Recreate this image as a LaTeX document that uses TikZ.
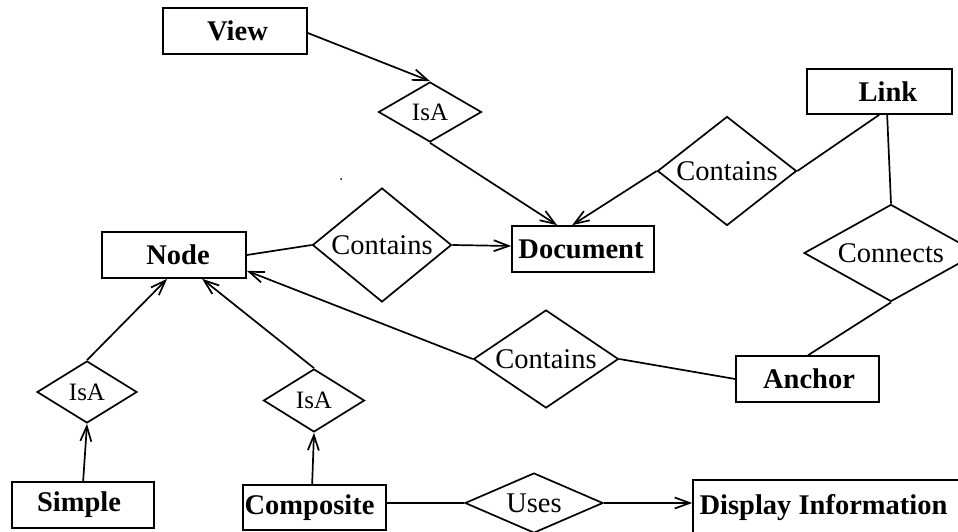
\documentclass[tikz,border=0pt]{standalone}
\usepackage{fontspec}
\setmainfont{Liberation Serif}
\usetikzlibrary{shapes.geometric,arrows.meta}
\begin{document}
\begin{tikzpicture}[x=1pt,y=-1pt,
  line width=1.7pt,
  ebox/.style={draw, rectangle, inner sep=0pt},
  rel/.style={draw, diamond, inner sep=0pt},
  btxt/.style={font=\fontsize{28.5}{30}\selectfont\bfseries, inner sep=0pt},
  rtxt/.style={font=\fontsize{28.5}{30}\selectfont, inner sep=0pt},
  itxt/.style={font=\fontsize{25}{27}\selectfont, inner sep=0pt},
  arr/.style={-{Straight Barb[length=15pt,width=11pt]}},
]
\fill[white] (0,0) rectangle (958,532);
\clip (0,0) rectangle (958,532);

% entities
\node[ebox, minimum width=144pt, minimum height=46pt,
  label={[btxt, xshift=2.5pt]center:View}] (view) at (235,31) {};
\node[ebox, minimum width=145pt, minimum height=45pt,
  label={[btxt, xshift=8.5pt]center:Link}] (link) at (879.5,91.5) {};
\node[ebox, minimum width=142pt, minimum height=46pt,
  label={[btxt, xshift=-2pt]center:Document}] (document) at (583,249) {};
\node[ebox, minimum width=144pt, minimum height=46pt,
  label={[btxt, xshift=4pt]center:Node}] (nodee) at (174,255) {};
\node[ebox, minimum width=143pt, minimum height=46pt,
  label={[btxt, xshift=1.5pt]center:Anchor}] (anchor) at (807.5,379) {};
\node[ebox, minimum width=142pt, minimum height=46pt,
  label={[btxt, xshift=-4pt]center:Simple}] (simple) at (83,505) {};
\node[ebox, minimum width=143pt, minimum height=45pt,
  label={[btxt, xshift=-5pt]center:Composite}] (composite) at (314.5,507.5) {};
\node[ebox, minimum width=275pt, minimum height=60pt,
  label={[btxt, xshift=-7pt, yshift=2pt]center:Display Information}] (display) at (830.5,510) {};

% relationships
\node[rel, minimum width=103pt, minimum height=60pt,
  label={[itxt]center:IsA}] (isa1) at (430,112) {};
\node[rel, minimum width=139pt, minimum height=114pt,
  label={[rtxt]center:Contains}] (c1) at (382,245) {};
\node[rel, minimum width=139pt, minimum height=109pt,
  label={[rtxt]center:Contains}] (c2) at (727,171) {};
\node[rel, minimum width=174pt, minimum height=97pt,
  label={[rtxt]center:Connects}] (connects) at (891,253) {};
\node[rel, minimum width=145pt, minimum height=98pt,
  label={[rtxt]center:Contains}] (c3) at (546,359) {};
\node[rel, minimum width=100pt, minimum height=62pt,
  label={[itxt]center:IsA}] (isa2) at (87,392) {};
\node[rel, minimum width=101pt, minimum height=63pt,
  label={[itxt]center:IsA}] (isa3) at (314,400.5) {};
\node[rel, minimum width=138pt, minimum height=60pt,
  label={[rtxt]center:Uses}] (uses) at (534,503) {};

% connectors
\draw[arr] ([yshift=-2pt]view.east) -- (isa1.north);
\draw[arr] (isa1.south) -- ([xshift=46pt]document.north west);
\draw[arr] (c2.west) -- ([xshift=61pt]document.north west);
\draw ([xshift=73pt]link.south west) -- (c2.east);
\draw ([xshift=81pt]link.south west) -- (connects.north);
\draw (connects.south) -- ([xshift=73pt]anchor.north west);
\draw (c3.east) -- (anchor.west);
\draw[arr] (c3.west) -- ([yshift=8pt]nodee.south east);
\draw (nodee.east) -- (c1.west);
\draw[arr] (c1.east) -- ([yshift=3pt]document.west);
\draw[arr] (isa2.north) -- ([xshift=66pt]nodee.south west);
\draw[arr] (isa3.north) -- ([xshift=101pt]nodee.south west);
\draw[arr] ([xshift=72pt]simple.north west) -- (isa2.south);
\draw[arr] ([xshift=70pt]composite.north west) -- (isa3.south);
\draw ([yshift=4.5pt]composite.east) -- (uses.west);
\draw[arr] (uses.east) -- ([yshift=7pt]display.west);

\fill (341,179) circle (1pt);
\end{tikzpicture}
\end{document}
